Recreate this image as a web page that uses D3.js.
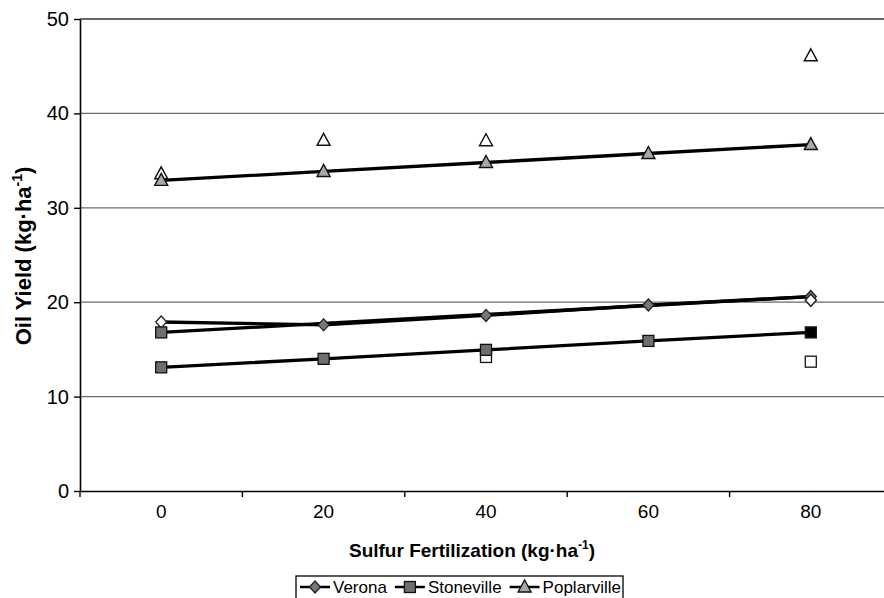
<!DOCTYPE html>
<html>
<head>
<meta charset="utf-8">
<script src="https://cdn.jsdelivr.net/npm/d3@7"></script>
<style>
  body { margin: 0; background: #fff; }
  svg { font-family: "Liberation Sans", Arial, sans-serif; }
</style>
</head>
<body>
<script>
// categories on the x axis (sulfur rate, kg/ha)
var rates = ['0', '20', '40', '60', '80']
var yTicks = [0, 10, 20, 30, 40, 50]

// fitted lines (drawn with markers)
var veronaFit = [16.8, 17.75, 18.7, 19.65, 20.6]
var stonevilleFit = [13.1, 14.0, 14.95, 15.9, 16.8]
var poplarvilleFit = [32.9, 33.85, 34.8, 35.75, 36.7]
// verona means, joined by a line
var veronaObs = [17.9, 17.6, 18.6, 19.7, 20.6]
// open markers (observed, unconnected)
var stonevilleOpen = [null, null, 14.2, null, 13.7]
var poplarvilleOpen = [33.6, 37.15, 37.1, null, 46.1]
var veronaOpen = [17.9, null, null, null, 20.2]

var W = 884, H = 598
var margin = { top: 19, right: -8, bottom: 107, left: 80 }

var svg = d3.select('body').append('svg')
  .attr('width', W).attr('height', H)

var x = d3.scaleBand().domain(rates)
  .range([margin.left, W - margin.right]).padding(0)
var y = d3.scaleLinear().domain([0, 50])
  .range([H - margin.bottom, margin.top])
var cx = function (c) { return x(c) + x.bandwidth() / 2 }

// gridlines
svg.append('g').selectAll('line').data(yTicks.filter(d => d > 0))
  .join('line')
  .attr('x1', margin.left).attr('x2', W)
  .attr('y1', d => y(d)).attr('y2', d => y(d))
  .attr('stroke', d => d == 50 ? '#333' : '#6a6a6a')
  .attr('stroke-width', d => d == 50 ? 1.5 : 1.2)

// y axis
var yAxis = svg.append('g')
  .attr('transform', 'translate(' + margin.left + ',0)')
  .call(d3.axisLeft(y).tickValues(yTicks).tickSize(6).tickPadding(5).tickSizeOuter(0))
yAxis.select('.domain').attr('stroke', '#000').attr('stroke-width', 1.6)
yAxis.selectAll('.tick line').attr('stroke', '#000').attr('stroke-width', 1.4)
yAxis.selectAll('.tick text').attr('font-size', 20).attr('fill', '#000')
  .attr('font-family', '"Liberation Sans", Arial, sans-serif')

// x axis
var xAxis = svg.append('g')
  .attr('transform', 'translate(0,' + y(0) + ')')
  .call(d3.axisBottom(x).tickSize(0).tickPadding(14).tickSizeOuter(0))
xAxis.select('.domain').attr('stroke', '#000').attr('stroke-width', 1.6)
xAxis.selectAll('.tick text').attr('font-size', 19).attr('fill', '#000')
  .attr('font-family', '"Liberation Sans", Arial, sans-serif')
// ticks between categories
xAxis.selectAll('line.sep').data(rates.concat(['end']))
  .join('line').attr('class', 'sep')
  .attr('x1', (d, i) => margin.left + i * x.step())
  .attr('x2', (d, i) => margin.left + i * x.step())
  .attr('y1', 0).attr('y2', 6)
  .attr('stroke', '#000').attr('stroke-width', 1.4)

// lines
var line = d3.line()
  .defined(d => d != null)
  .x((d, i) => cx(rates[i]))
  .y(d => y(d))

var lineSets = [veronaObs, veronaFit, stonevilleFit, poplarvilleFit]
svg.append('g').selectAll('path').data(lineSets).join('path')
  .attr('d', d => line(d))
  .attr('fill', 'none').attr('stroke', '#000').attr('stroke-width', 3.3)

// marker helpers
function diamond(g, px, py, fill) {
  g.append('path')
    .attr('d', 'M' + px + ',' + (py - 6) + 'L' + (px + 5.5) + ',' + py + 'L' + px + ',' + (py + 6) + 'L' + (px - 5.5) + ',' + py + 'Z')
    .attr('fill', fill).attr('stroke', '#222').attr('stroke-width', 1.3)
}
function square(g, px, py, fill) {
  g.append('rect').attr('x', px - 5.5).attr('y', py - 5.5)
    .attr('width', 11).attr('height', 11)
    .attr('fill', fill).attr('stroke', '#111').attr('stroke-width', 1.3)
}
function triangle(g, px, py, fill) {
  g.append('path')
    .attr('d', 'M' + px + ',' + (py - 7) + 'L' + (px + 6.5) + ',' + (py + 5) + 'L' + (px - 6.5) + ',' + (py + 5) + 'Z')
    .attr('fill', fill).attr('stroke', '#111').attr('stroke-width', 1.4)
}

var mk = svg.append('g')
// open markers first
stonevilleOpen.forEach((v, i) => { if (v != null) square(mk, cx(rates[i]), y(v), '#fff') })
poplarvilleOpen.forEach((v, i) => { if (v != null) triangle(mk, cx(rates[i]), y(v), '#fff') })
veronaOpen.forEach((v, i) => { if (v != null) diamond(mk, cx(rates[i]), y(v), '#fff') })
// filled markers on the lines
veronaFit.forEach((v, i) => {
  if (i == 0) square(mk, cx(rates[i]), y(v), '#6e6e6e')
  else diamond(mk, cx(rates[i]), y(i == 4 ? v : veronaObs[i]), '#777')
})
stonevilleFit.forEach((v, i) => square(mk, cx(rates[i]), y(v), i == 4 ? '#000' : '#6e6e6e'))
poplarvilleFit.forEach((v, i) => triangle(mk, cx(rates[i]), y(v), '#a8a8a8'))
veronaOpen.forEach((v, i) => { if (v != null && i == 4) diamond(mk, cx(rates[i]), y(v), '#fff') })

// axis titles
svg.append('text')
  .attr('x', 472).attr('y', 557)
  .attr('text-anchor', 'middle')
  .attr('font-size', 19).attr('font-weight', 'bold')
  .html('Sulfur Fertilization (kg·ha<tspan dy="-8" font-size="12">-1</tspan><tspan dy="8">)</tspan>')

svg.append('text')
  .attr('transform', 'translate(31,' + 256 + ') rotate(-90)')
  .attr('text-anchor', 'middle')
  .attr('font-size', 22).attr('font-weight', 'bold')
  .html('Oil Yield (kg·ha<tspan dy="-9" font-size="14">-1</tspan><tspan dy="9">)</tspan>')

// legend
var legendItems = [
  { name: 'Verona', shape: 'diamond', fill: '#777' },
  { name: 'Stoneville', shape: 'square', fill: '#6e6e6e' },
  { name: 'Poplarville', shape: 'triangle', fill: '#a8a8a8' }
]
var lg = svg.append('g')
lg.append('rect').attr('x', 296).attr('y', 576).attr('width', 327).attr('height', 30)
  .attr('fill', '#fff').attr('stroke', '#000').attr('stroke-width', 1.3)
var cur = 300
legendItems.forEach((d, i) => {
  var g = lg.append('g')
  var ly = 587
  g.append('line').attr('x1', cur).attr('x2', cur + 30)
    .attr('y1', ly).attr('y2', ly).attr('stroke', '#000').attr('stroke-width', 2.5)
  var mx = cur + 15
  if (d.shape == 'diamond') diamond(g, mx, ly, d.fill)
  if (d.shape == 'square') square(g, mx, ly, d.fill)
  if (d.shape == 'triangle') triangle(g, mx, ly, d.fill)
  var t = g.append('text').attr('x', cur + 33).attr('y', ly + 6)
    .attr('font-size', 17).text(d.name)
  cur = cur + 33 + t.node().getComputedTextLength() + 8
})
</script>
</body>
</html>
